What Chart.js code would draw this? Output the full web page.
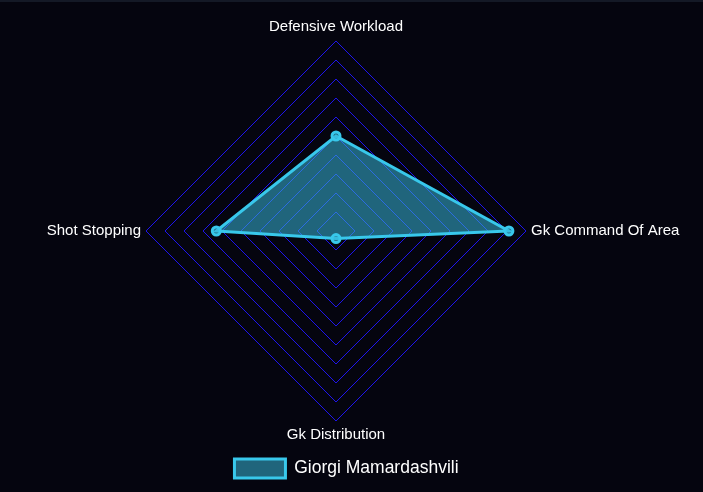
<!DOCTYPE html>
<html>
<head>
<meta charset="utf-8">
<script src="https://cdn.jsdelivr.net/npm/chart.js@4.4.1/dist/chart.umd.min.js"></script>
<style>
  html, body { margin: 0; padding: 0; background: #05050f; }
  .wrap { width: 703px; height: 490px; border-top: 2px solid #141926; }
</style>
</head>
<body>
<div class="wrap"><canvas id="radar-chart" width="703" height="490"></canvas></div>
<script>
const LABELS = ["Defensive Workload", "Gk Command Of Area", "Gk Distribution", "Shot Stopping"];
const PLAYER = "Giorgi Mamardashvili";
const VALUES = [50, 91, 4, 63];

const RCHART = document.getElementById("radar-chart");

let radarChart = new Chart(RCHART, {
  type: "radar",
  data: {
    labels: LABELS,
    datasets: [
      {
        label: PLAYER,
        data: VALUES,
        fill: true,
        backgroundColor: "rgba(54, 180, 215, 0.55)",
        borderColor: "rgb(56, 200, 235)",
        borderWidth: 3,
        pointBackgroundColor: "rgba(54, 180, 215, 0.6)",
        pointBorderColor: "rgb(56, 200, 235)",
        pointRadius: 4,
      },
    ],
  },
  options: {
    responsive: false,
    animation: false,
    layout: { padding: { top: 16, bottom: 4, right: 10 } },
    plugins: {
      legend: {
        position: "bottom",
        labels: {
          color: "#ffffff",
          font: { family: "Liberation Sans", size: 17.5 },
          boxWidth: 51,
          boxHeight: 19,
          padding: 14,
        },
      },
    },
    scales: {
      r: {
        min: 0,
        max: 100,
        ticks: { display: false, stepSize: 10 },
        angleLines: { display: false },
        grid: { color: "rgb(30, 20, 235)", lineWidth: 1 },
        pointLabels: {
          color: "#ffffff",
          font: { family: "Liberation Sans", size: 15 },
        },
      },
    },
  },
});
</script>
</body>
</html>
